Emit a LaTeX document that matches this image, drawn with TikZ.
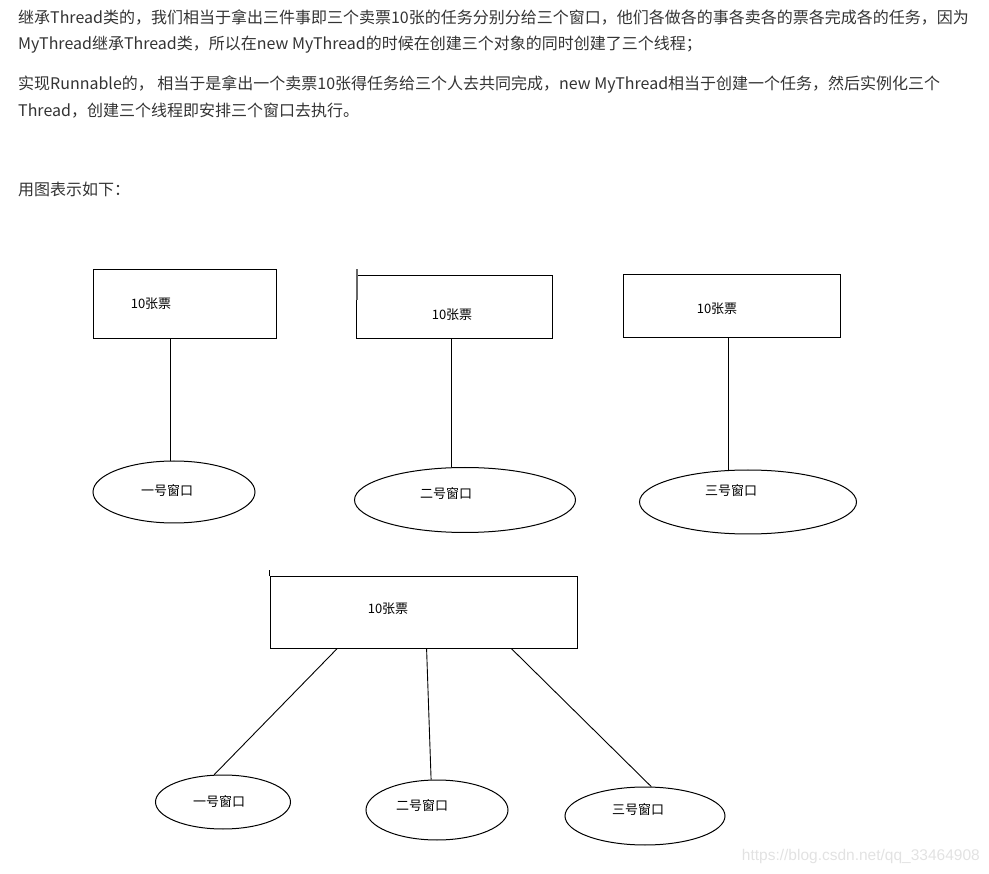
\documentclass[tikz,border=0pt]{standalone}
\usepackage{fontspec}
\usepackage{xcolor}
\usepackage{tikz}
\usetikzlibrary{shapes.geometric, calc}
\newfontfamily\cjk{Noto Sans CJK SC}
\newfontfamily\wmfont{Liberation Sans}
\definecolor{textdark}{HTML}{333333}
\definecolor{wmgray}{HTML}{E2E2E2}

\begin{document}
\begin{tikzpicture}[
    x=1pt, y=-1pt,
    para/.style={anchor=west, inner sep=0pt, font=\cjk\fontsize{16}{20}\selectfont, text=textdark},
    box/.style={rectangle, draw, line width=1pt, inner sep=0pt},
    win/.style={ellipse, draw, line width=1pt, inner sep=0pt},
    lbl/.style={inner sep=0pt, font=\cjk\fontsize{13}{15}\selectfont},
    link/.style={line width=0.9pt}
  ]
    \useasboundingbox (0,0) rectangle (989,874);

    % text above the drawing
    \node[para] (p1) at (18,17) {继承Thread类的，我们相当于拿出三件事即三个卖票10张的任务分别分给三个窗口，他们各做各的事各卖各的票各完成各的任务，因为};
    \node[para] (p2) at (18,45) {MyThread继承Thread类，所以在new MyThread的时候在创建三个对象的同时创建了三个线程；};
    \node[para] (p3) at (18,84) {实现Runnable的， 相当于是拿出一个卖票10张得任务给三个人去共同完成，new MyThread相当于创建一个任务，然后实例化三个};
    \node[para] (p4) at (18,111) {Thread，创建三个线程即安排三个窗口去执行。};
    \node[para] (p5) at (18,189) {用图表示如下：};

    % Thread: three tasks, three windows
    \node[box, minimum width=183pt, minimum height=69pt] (box1) at (184.5,304.5) {};
    \node[box, minimum width=196pt, minimum height=63pt] (box2) at (454,307.5) {};
    \node[box, minimum width=217pt, minimum height=63pt] (box3) at (731.5,306.5) {};
    \node[lbl] (tix1) at (151,304) {10张票};
    \node[lbl] (tix2) at (452,315) {10张票};
    \node[lbl] (tix3) at (717,309) {10张票};
    \draw[black!60, line width=2pt] ($(box2.north west)+(1,-6)$) -- ++(0,31);

    \node[win, minimum width=162pt, minimum height=62pt] (win1) at (174,492) {};
    \node[win, minimum width=221pt, minimum height=65pt] (win2) at (465,500) {};
    \node[win, minimum width=217pt, minimum height=64pt] (win3) at (748,502) {};
    \node[lbl] (nm1) at (167,491) {一号窗口};
    \node[lbl] (nm2) at (446,494) {二号窗口};
    \node[lbl] (nm3) at (731,491) {三号窗口};

    \draw[link] (box1.south -| win1.96) -- (win1.96);
    \draw[link] (box2.south -| win2.112) -- (win2.112);
    \draw[link] (box3.south -| win3.121) -- (win3.121);

    % Runnable: one task, three windows
    \node[box, minimum width=307pt, minimum height=71pt] (box4) at (423.5,612.5) {};
    \node[lbl] (tix4) at (388,609) {10张票};
    \draw[link] (box4.north west) -- ++(0,-6);

    \node[win, minimum width=135pt, minimum height=54pt] (win4) at (223,802) {};
    \node[win, minimum width=142pt, minimum height=60pt] (win5) at (437,810) {};
    \node[win, minimum width=160pt, minimum height=58pt] (win6) at (645,816) {};
    \node[lbl] (nm4) at (219,802) {一号窗口};
    \node[lbl] (nm5) at (422,806) {二号窗口};
    \node[lbl] (nm6) at (638,810) {三号窗口};

    \draw[link] ($(box4.south west)!0.22!(box4.south east)$) -- (win4.108);
    \draw[link] ($(box4.south west)!0.51!(box4.south east)$) -- (win5.101);
    \draw[link] ($(box4.south west)!0.785!(box4.south east)$) -- (win6.78);

    \node[anchor=east, inner sep=0pt, font=\wmfont\fontsize{15.5}{18}\selectfont, text=wmgray] (wm) at (980,856) {https://blog.csdn.net/qq\_33464908};

\end{tikzpicture}
\end{document}
